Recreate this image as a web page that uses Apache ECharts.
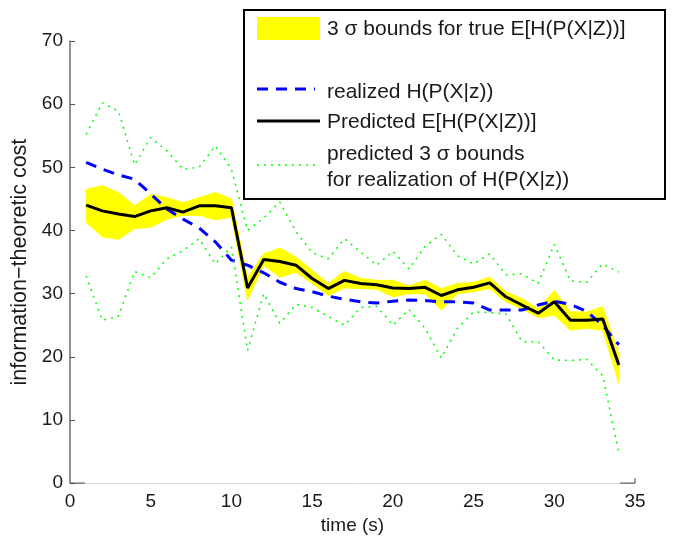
<!DOCTYPE html>
<html>
<head>
<meta charset="utf-8">
<script src="https://cdn.jsdelivr.net/npm/echarts@6/dist/echarts.min.js"></script>
<style>
  html, body { margin: 0; padding: 0; background: #fff; }
  #chart { width: 678px; height: 540px; }
</style>
</head>
<body>
<div id="chart"></div>
<script>
// ---- data ----
const time = [1, 2, 3, 4, 5, 6, 7, 8, 9, 10, 11, 12, 13, 14, 15, 16, 17, 18, 19, 20, 21, 22, 23, 24, 25, 26, 27, 28, 29, 30, 31, 32, 33, 34];

// 3 sigma bounds for true E[H(P(X|Z))] (yellow band)
const bandUpper = [46.5, 47.1, 46.0, 43.9, 45.7, 45.2, 44.4, 45.2, 46.0, 45.0, 32.5, 36.3, 37.2, 35.8, 33.7, 31.6, 33.5, 32.4, 32.1, 32.1, 31.2, 32.1, 30.8, 31.6, 31.8, 32.6, 30.3, 29.2, 27.6, 30.5, 27.1, 27.1, 27.9, 20.3];
const bandLower = [41.3, 39.0, 38.6, 40.3, 40.5, 41.8, 42.4, 42.4, 41.7, 42.1, 29.0, 34.5, 32.6, 33.4, 31.6, 29.7, 30.9, 30.8, 30.7, 29.5, 30.0, 30.0, 27.4, 30.0, 30.3, 30.8, 28.7, 27.6, 26.2, 26.6, 24.2, 24.5, 24.2, 15.8];

// realized H(P(X|z)) (blue dashed)
const realized = [50.8, 49.7, 48.8, 48.1, 45.8, 43.4, 41.8, 40.4, 38.2, 35.3, 34.5, 33.3, 31.8, 30.8, 30.3, 29.6, 29.1, 28.7, 28.5, 28.8, 29.0, 28.9, 28.7, 28.7, 28.5, 27.4, 27.4, 27.4, 28.2, 28.8, 28.3, 27.2, 25.0, 21.9];

// Predicted E[H(P(X|Z))] (black solid)
const predicted = [44.0, 43.1, 42.6, 42.2, 43.1, 43.6, 42.9, 43.9, 43.9, 43.6, 30.9, 35.4, 35.1, 34.5, 32.4, 30.8, 32.1, 31.6, 31.4, 30.9, 30.8, 31.0, 29.7, 30.6, 31.0, 31.7, 29.5, 28.2, 26.9, 28.7, 25.8, 25.8, 26.0, 18.7];

// predicted 3 sigma bounds for realization (green dotted)
const greenUpper = [55.2, 60.2, 58.9, 50.4, 54.7, 52.6, 49.7, 50.0, 53.4, 49.7, 40.0, 42.0, 44.5, 39.8, 36.5, 35.5, 38.7, 36.6, 34.5, 36.7, 33.9, 37.5, 39.4, 36.0, 34.7, 36.3, 33.0, 33.1, 31.6, 37.8, 32.0, 31.8, 34.7, 33.4];
const greenLower = [32.8, 25.8, 26.4, 33.5, 32.5, 35.5, 36.8, 38.7, 34.7, 37.4, 21.0, 30.0, 25.3, 28.3, 27.8, 26.4, 25.0, 27.8, 28.0, 25.0, 27.5, 24.5, 19.8, 24.5, 27.1, 27.0, 26.8, 22.4, 22.4, 19.5, 19.4, 19.6, 17.0, 4.8];

// axis ticks
const xTicks = { min: 0, max: 35, interval: 5 };
const yTicks = { min: 0, max: 70, interval: 10 };

// legend texts
const legendTexts = [
  '3 σ bounds for true E[H(P(X|Z))]',
  'realized H(P(X|z))',
  'Predicted E[H(P(X|Z))]',
  'predicted 3 σ bounds\nfor realization of H(P(X|z))'
];
const xName = 'time (s)';
const yName = 'information−theoretic cost';

// ---- chart ----
const FONT = 'Liberation Sans, Arial, Helvetica, sans-serif';
const TXT = '#1a1a1a';
const chart = echarts.init(document.getElementById('chart'), null, { renderer: 'canvas' });

const pair = (arr) => time.map((t, i) => [t, arr[i]]);

const LX = 244, LY = 10, LW = 421, LH = 189;
const LF = '21px ' + FONT;

chart.setOption({
  animation: false,
  backgroundColor: '#ffffff',
  grid: { left: 70, right: 43, top: 41, bottom: 54, containLabel: false },
  xAxis: {
    type: 'value',
    min: xTicks.min, max: xTicks.max, interval: xTicks.interval,
    name: xName, nameLocation: 'middle', nameGap: 30,
    nameTextStyle: { fontFamily: FONT, fontSize: 19, color: TXT },
    axisLine: { show: true, lineStyle: { color: '#dcdcdc', width: 1 } },
    axisTick: { show: false },
    axisLabel: { fontFamily: FONT, fontSize: 19, color: TXT, margin: 9 },
    splitLine: { show: false }
  },
  yAxis: {
    type: 'value',
    min: yTicks.min, max: yTicks.max, interval: yTicks.interval,
    name: yName, nameLocation: 'middle', nameGap: 37, nameRotate: 90,
    nameTextStyle: { fontFamily: FONT, fontSize: 21.5, color: TXT },
    axisLine: { show: true, lineStyle: { color: '#6e6e6e', width: 1.5 } },
    axisTick: { show: true, inside: true, length: 5, lineStyle: { color: '#555', width: 1 } },
    axisLabel: { fontFamily: FONT, fontSize: 19, color: TXT, margin: 7 },
    splitLine: { show: false }
  },
  series: [
    {
      name: 'band',
      type: 'custom',
      z: 1,
      data: time.map((t, i) => [t, bandUpper[i], bandLower[i]]),
      encode: { x: 0, y: [1, 2] },
      renderItem: function (params, api) {
        if (params.dataIndex !== 0) return null;
        const pts = [];
        for (let i = 0; i < time.length; i++) pts.push(api.coord([time[i], bandUpper[i]]));
        for (let i = time.length - 1; i >= 0; i--) pts.push(api.coord([time[i], bandLower[i]]));
        return { type: 'polygon', shape: { points: pts }, style: { fill: '#ffff00', stroke: '#ffff00', lineWidth: 1 } };
      }
    },
    {
      name: 'realized', type: 'line', z: 3, showSymbol: false, data: pair(realized),
      lineStyle: { color: '#0000ff', width: 3, type: [11, 8] }
    },
    {
      name: 'predicted', type: 'line', z: 4, showSymbol: false, data: pair(predicted),
      lineStyle: { color: '#000000', width: 3 }
    },
    {
      name: 'greenUpper', type: 'line', z: 5, showSymbol: false, data: pair(greenUpper),
      lineStyle: { color: '#00ff00', width: 1.5, type: [2, 5] }
    },
    {
      name: 'greenLower', type: 'line', z: 5, showSymbol: false, data: pair(greenLower),
      lineStyle: { color: '#00ff00', width: 1.5, type: [2, 5] }
    }
  ],
  graphic: [
    { id: 'lgBox', type: 'rect', z: 10, shape: { x: LX, y: LY, width: LW, height: LH },
      style: { fill: '#ffffff', stroke: '#000000', lineWidth: 2 } },
    { id: 'lgFill', type: 'rect', z: 11, shape: { x: 257, y: 17, width: 63, height: 23 }, style: { fill: '#ffff00' } },
    { id: 'lgT0', type: 'text', z: 11, x: 327, y: 29, style: { text: legendTexts[0], font: LF, fill: TXT, verticalAlign: 'middle' } },
    { id: 'lgBlue', type: 'line', z: 11, shape: { x1: 257, y1: 89, x2: 315, y2: 89 }, style: { stroke: '#0000ff', lineWidth: 3, lineDash: [11, 8] } },
    { id: 'lgT1', type: 'text', z: 11, x: 327, y: 92, style: { text: legendTexts[1], font: LF, fill: TXT, verticalAlign: 'middle' } },
    { id: 'lgBlack', type: 'line', z: 11, shape: { x1: 257, y1: 121, x2: 320, y2: 121 }, style: { stroke: '#000000', lineWidth: 3 } },
    { id: 'lgT2', type: 'text', z: 11, x: 327, y: 122, style: { text: legendTexts[2], font: LF, fill: TXT, verticalAlign: 'middle' } },
    { id: 'lgGreen', type: 'line', z: 11, shape: { x1: 257, y1: 165, x2: 320, y2: 165 }, style: { stroke: '#00ff00', lineWidth: 1.5, lineDash: [2, 5] } },
    { id: 'lgT3', type: 'text', z: 11, x: 327, y: 167, style: { text: legendTexts[3], font: LF, fill: TXT, verticalAlign: 'middle', lineHeight: 26 } }
  ]
});

// short dark axis segments at both ends of the x axis (as in the reference frame)
const p0 = chart.convertToPixel({ gridIndex: 0 }, [xTicks.min, yTicks.min]);
const p1 = chart.convertToPixel({ gridIndex: 0 }, [xTicks.max, yTicks.min]);
chart.setOption({
  graphic: [
    { id: 'axEndL', type: 'line', z: 12, shape: { x1: p0[0], y1: p0[1], x2: p0[0] + 15, y2: p0[1] }, style: { stroke: '#444', lineWidth: 1 } },
    { id: 'axEndR', type: 'polyline', z: 12, shape: { points: [[p1[0] - 15, p1[1]], [p1[0], p1[1]], [p1[0], p1[1] - 5]] }, style: { stroke: '#444', lineWidth: 1, fill: null } }
  ]
});
</script>
</body>
</html>
